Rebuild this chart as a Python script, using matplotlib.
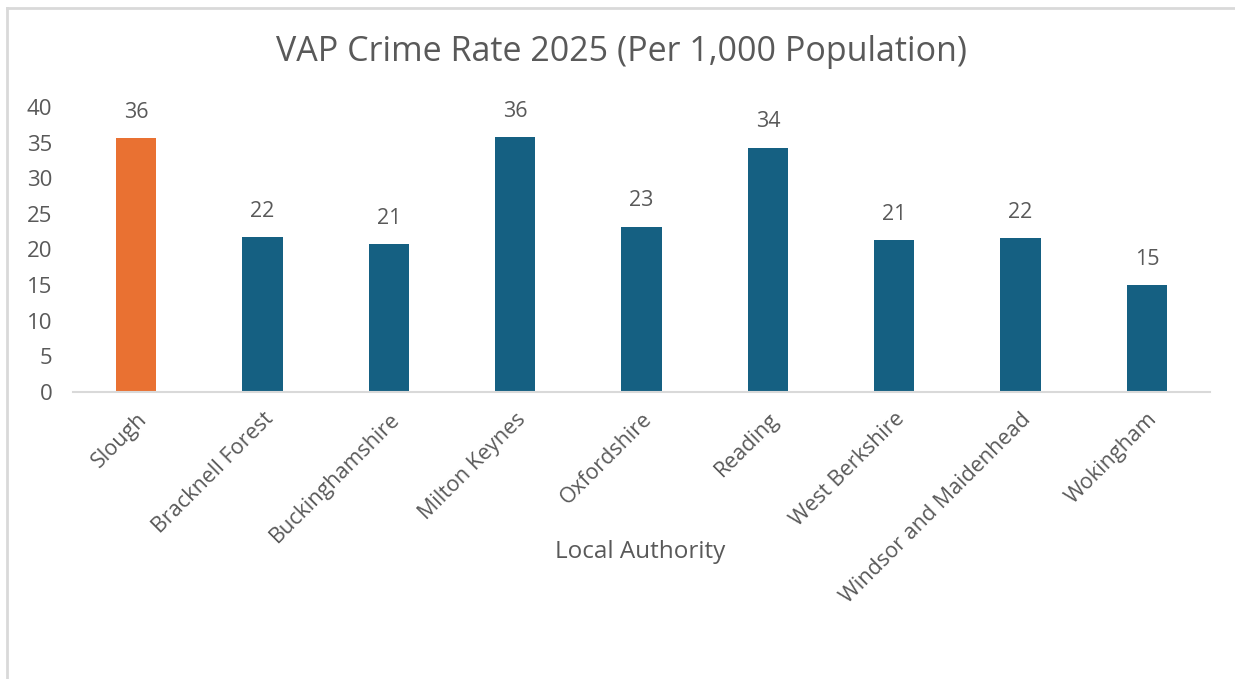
import matplotlib
matplotlib.use("Agg")
import matplotlib.pyplot as plt
from matplotlib.lines import Line2D

categories = ["Slough", "Bracknell Forest", "Buckinghamshire", "Milton Keynes",
              "Oxfordshire", "Reading", "West Berkshire", "Windsor and Maidenhead", "Wokingham"]
values = [35.6, 21.7, 20.8, 35.8, 23.2, 34.3, 21.3, 21.6, 15.0]
bar_colors = ["#E97132"] + ["#156082"] * 8
yticks = [0, 5, 10, 15, 20, 25, 30, 35, 40]

TXT = "#595959"
plt.rcParams['font.family'] = ['Open Sans', 'DejaVu Sans']

fig = plt.figure(figsize=(12.35, 6.79), dpi=100)
ax = fig.add_axes([73/1235, 1-392/679, (1210-73)/1235, (392-107)/679])

x = list(range(len(categories)))
bars = ax.bar(x, values, width=0.32, color=bar_colors, zorder=2)
for xi, v in zip(x, values):
    ax.annotate(f"{v:.0f}", (xi, v), xytext=(0, 11), textcoords="offset points",
                ha="center", va="bottom", fontsize=15.5, color=TXT)

ax.set_xlim(-0.5, len(categories) - 0.5)
ax.set_ylim(0, 40)
ax.set_yticks(yticks)
ax.set_yticklabels([str(t) for t in yticks], fontsize=16, color=TXT)
ax.set_xticks(x)
ax.set_xticklabels(categories, rotation=45, ha="right", rotation_mode="anchor",
                   fontsize=15.5, color=TXT)
ax.tick_params(axis="both", length=0)
ax.tick_params(axis="y", pad=15)
ax.tick_params(axis="x", pad=12)
for s in ["top", "right", "left"]:
    ax.spines[s].set_visible(False)
ax.spines["bottom"].set_color("#D9D9D9")
ax.spines["bottom"].set_linewidth(1.5)

fig.text(622/1235, 1-52/679, "VAP Crime Rate 2025 (Per 1,000 Population)",
         ha="center", va="center", fontsize=24.5, color=TXT)
fig.text(640/1235, 1-552/679, "Local Authority", ha="center", va="center",
         fontsize=17.5, color=TXT)

# partial chart frame (top and left edges)
fig.add_artist(Line2D([7/1235, 7/1235], [0, 1-8/679], transform=fig.transFigure,
                      color="#D9D9D9", lw=2))
fig.add_artist(Line2D([7/1235, 1], [1-8/679, 1-8/679], transform=fig.transFigure,
                      color="#D9D9D9", lw=2))

fig.savefig("out.png", dpi=100, facecolor="white")
